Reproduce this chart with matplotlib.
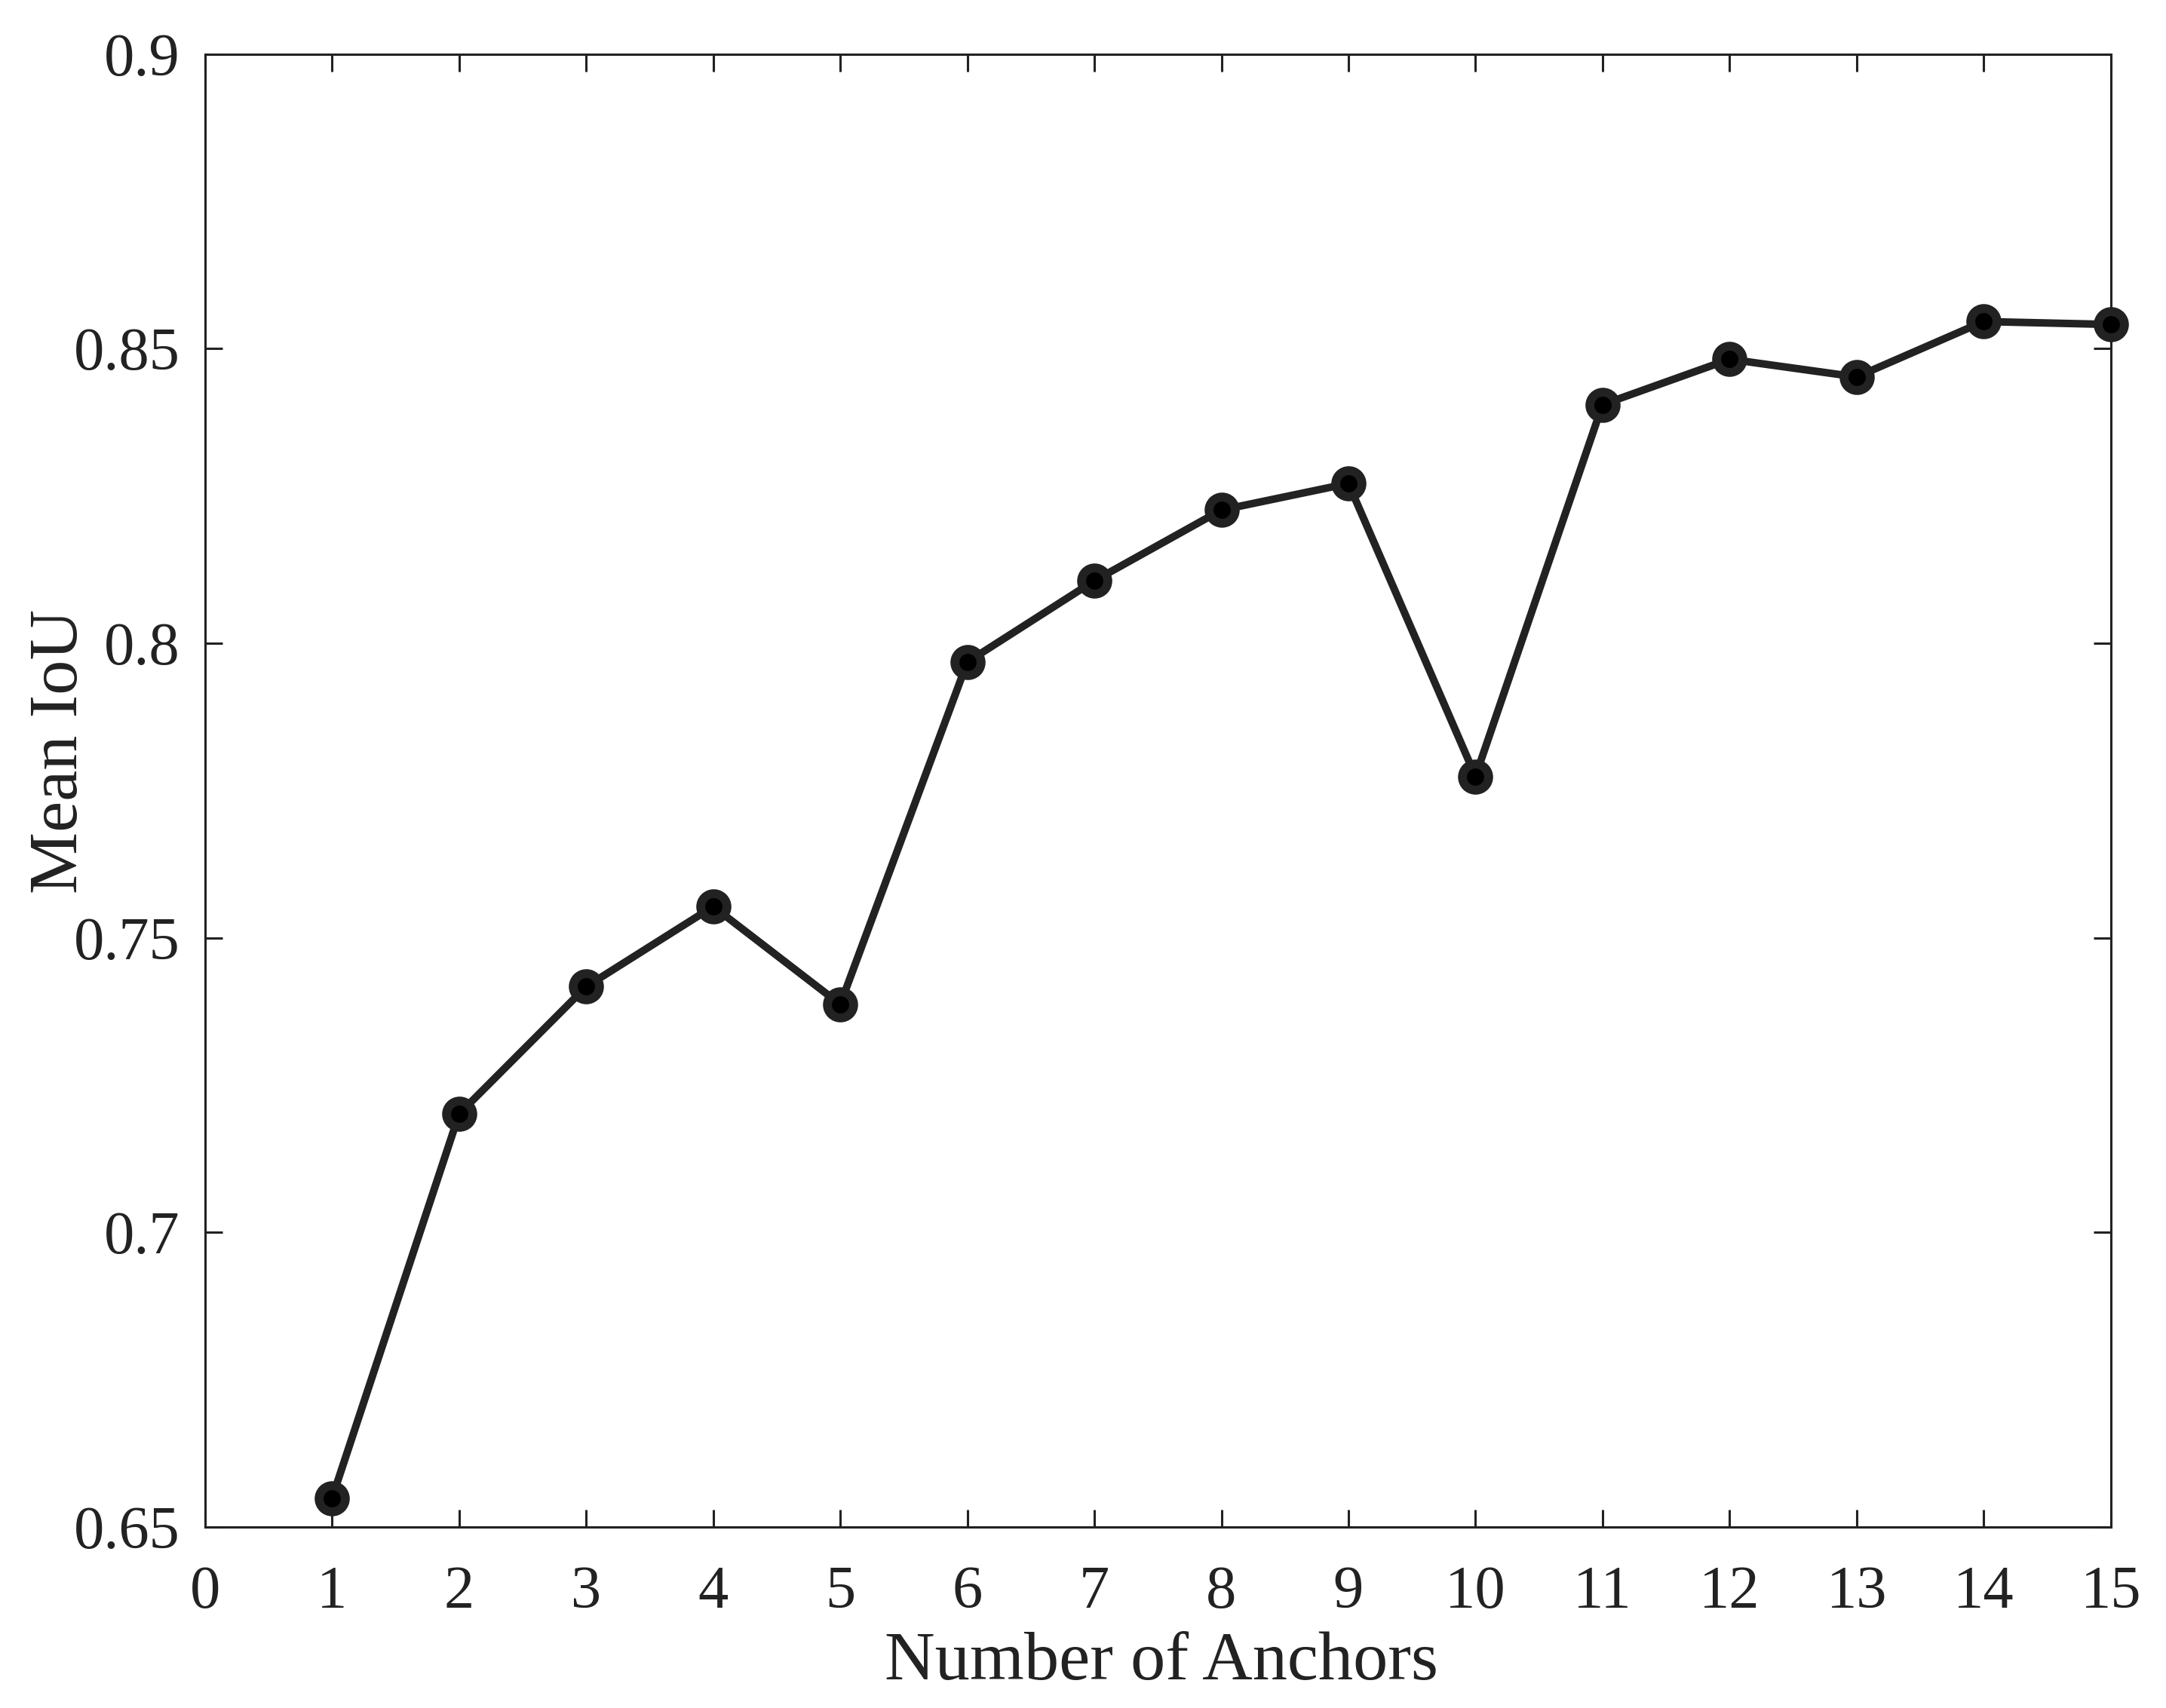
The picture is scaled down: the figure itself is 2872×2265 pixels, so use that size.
import matplotlib
matplotlib.use("Agg")
import matplotlib.pyplot as plt

# Mean IoU against number of anchors
anchors = [1, 2, 3, 4, 5, 6, 7, 8, 9, 10, 11, 12, 13, 14, 15]
mean_iou = [0.6549, 0.7201, 0.7417, 0.7553, 0.7387, 0.7968, 0.8106, 0.8226,
            0.8271, 0.7774, 0.8405, 0.8482, 0.8452, 0.8546, 0.8541]
x_ticks = list(range(0, 16))
y_ticks = [0.65, 0.7, 0.75, 0.8, 0.85, 0.9]
y_tick_labels = ["0.65", "0.7", "0.75", "0.8", "0.85", "0.9"]

plt.rcParams['font.family'] = ['Liberation Serif', 'DejaVu Serif']

W, H = 2872, 2265
fig = plt.figure(figsize=(W / 100, H / 100), dpi=100)
# axes box in pixels: left 272, right 2799, top 72, bottom 2025
ax = fig.add_axes([271.9 / W, 1 - 2024.8 / H, (2798.7 - 271.9) / W, (2024.8 - 71.7) / H])

ax.plot(anchors, mean_iou, color='#222222', linewidth=7.2,
        marker='o', markersize=25, markerfacecolor='black',
        markeredgecolor='#222222', markeredgewidth=8.5, zorder=3, clip_on=False)

ax.set_xlim(0, 15)
ax.set_ylim(0.65, 0.9)
ax.set_xticks(x_ticks)
ax.set_yticks(y_ticks)
ax.set_yticklabels(y_tick_labels)

ax.tick_params(direction='in', length=16.5, width=2.2, labelsize=58,
               top=True, right=True, colors='#222222')
ax.tick_params(axis='y', pad=24)
ax.tick_params(axis='x', pad=37)
for sp in ax.spines.values():
    sp.set_linewidth(2.2)
    sp.set_color('#222222')

ax.set_xlabel('Number of Anchors', fontsize=66.5, color='#222222', va='baseline')
ax.xaxis.set_label_coords(1540 / W, 1 - 2226.7 / H, transform=fig.transFigure)
ax.set_ylabel('Mean IoU', fontsize=66.5, color='#222222', va='center')
ax.yaxis.set_label_coords(80 / W, 1 - 996 / H, transform=fig.transFigure)

fig.savefig('out.png', dpi=100)
